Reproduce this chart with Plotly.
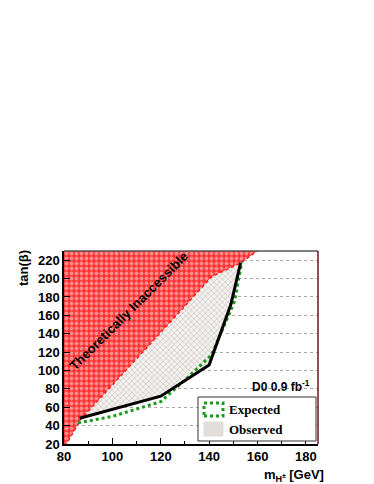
import plotly.graph_objects as go

# Theoretically inaccessible region boundary (m_H±, tanβ)
theo_m = [81, 87, 100, 115, 130, 141, 153, 160]
theo_tb = [20, 47, 84, 127, 170, 202, 217, 230]

# Observed exclusion boundary
obs_m = [86.5, 120, 140, 149, 153]
obs_tb = [48, 72, 106, 172, 217]

# Expected exclusion boundary
exp_m = [85.8, 100, 120, 131, 141, 150.5, 153.5]
exp_tb = [43, 50, 66, 92, 117, 175, 218]

x_ticks = [80, 100, 120, 140, 160, 180]
y_ticks = [20, 40, 60, 80, 100, 120, 140, 160, 180, 200, 220]

fig = go.Figure()

# Observed excluded region (grey hatch): between theory boundary and observed line
grey_x = theo_m[1:7] + obs_m[::-1][1:]
grey_y = theo_tb[1:7] + obs_tb[::-1][1:]
fig.add_trace(go.Scatter(
    x=grey_x, y=grey_y, fill="toself", mode="lines",
    line=dict(width=0, color="rgba(0,0,0,0)"),
    fillcolor="rgba(0,0,0,0)",
    fillpattern=dict(shape="x", fgcolor="#b5ada5", bgcolor="#f4f2f0", size=4, solidity=0.4),
    hoverinfo="skip", showlegend=False))

# Theoretically inaccessible region (red hatch)
red_x = [80] + theo_m + [80]
red_y = [20] + theo_tb + [230]
fig.add_trace(go.Scatter(
    x=red_x, y=red_y, fill="toself", mode="lines",
    line=dict(width=1.5, color="#ff1a1a", dash="dot"),
    fillcolor="rgba(0,0,0,0)",
    fillpattern=dict(shape=".", fgcolor="#ffe6e6", bgcolor="#ff3333", size=5, solidity=0.45),
    hoverinfo="skip", showlegend=False))

# Expected line
fig.add_trace(go.Scatter(x=exp_m, y=exp_tb, mode="lines",
                         line=dict(color="#1a9a1a", width=3, dash="dot"),
                         hoverinfo="skip", showlegend=False))
# Observed line
fig.add_trace(go.Scatter(x=obs_m, y=obs_tb, mode="lines",
                         line=dict(color="black", width=3),
                         hoverinfo="skip", showlegend=False))

W, H = 374, 484
L, R, T, B = 56, 64, 243, 48
pw, ph = W - L - R, H - T - B

def px(x):
    return (x - L) / pw

def py(y):
    return (H - B - y) / ph

sans_bold = dict(family="Liberation Sans, Arial, sans-serif", size=13, color="black", weight="bold")
serif_bold = dict(family="Liberation Serif, Times New Roman, serif", size=13, color="black", weight="bold")

shapes = [
    # frame top and right
    dict(type="line", xref="paper", yref="paper", x0=0, x1=1, y0=1, y1=1,
         line=dict(color="#555555", width=1.5)),
    dict(type="line", xref="paper", yref="paper", x0=1, x1=1, y0=0, y1=1,
         line=dict(color="#6b1a1a", width=1.5)),
    # legend box
    dict(type="rect", xref="paper", yref="paper", x0=px(190), x1=px(308), y0=py(433), y1=py(389),
         line=dict(color="#333333", width=1), fillcolor="white", layer="above"),
    # expected swatch
    dict(type="rect", xref="paper", yref="paper", x0=px(196), x1=px(215), y0=py(408), y1=py(395),
         line=dict(color="#1a9a1a", width=3, dash="dot"), fillcolor="white", layer="above"),
    # observed swatch
    dict(type="rect", xref="paper", yref="paper", x0=px(196), x1=px(215), y0=py(428), y1=py(414),
         line=dict(color="#dddddd", width=1), fillcolor="#e2ded9", layer="above"),
]

annotations = [
    dict(text="Expected", xref="paper", yref="paper", x=px(219), y=py(401), xanchor="left",
         yanchor="middle", showarrow=False, font=serif_bold),
    dict(text="Observed", xref="paper", yref="paper", x=px(219), y=py(421), xanchor="left",
         yanchor="middle", showarrow=False, font=serif_bold),
    dict(text="D0 0.9 fb<sup>-1</sup>", xref="paper", yref="paper", x=px(304), y=py(378),
         xanchor="right", yanchor="middle", showarrow=False,
         font=dict(family="Liberation Sans, Arial, sans-serif", size=12, color="black", weight="bold")),
    dict(text="Theoretically Inaccessible", xref="paper", yref="paper", x=px(120), y=py(303),
         xanchor="center", yanchor="middle", textangle=-45, showarrow=False,
         font=dict(family="Liberation Sans, Arial, sans-serif", size=13, color="black", weight="bold")),
    dict(text="tan(β)", xref="paper", yref="paper", x=px(15), y=py(260), xanchor="center",
         yanchor="middle", textangle=-90, showarrow=False, font=sans_bold),
    dict(text="m<sub>H<sup>±</sup></sub> [GeV]", xref="paper", yref="paper", x=px(318), y=py(467),
         xanchor="right", yanchor="middle", showarrow=False, font=sans_bold),
]

fig.update_layout(
    width=W, height=H,
    margin=dict(l=L, r=R, t=T, b=B),
    paper_bgcolor="white", plot_bgcolor="white",
    shapes=shapes, annotations=annotations,
    showlegend=False,
    xaxis=dict(range=[80, 185], tickvals=x_ticks, ticks="inside", ticklen=6,
               tickcolor="black", showline=True, linecolor="black", linewidth=1.5,
               showgrid=False, zeroline=False, tickfont=sans_bold, ticklabelstandoff=0,
               minor=dict(ticks="inside", ticklen=3, dtick=10, tick0=80, tickcolor="black")),
    yaxis=dict(range=[20, 230], tickvals=y_ticks, ticks="inside", ticklen=6,
               tickcolor="black", showline=True, linecolor="black", linewidth=1.5,
               showgrid=True, gridcolor="#a8a8a8", griddash="dot", gridwidth=1,
               zeroline=False, tickfont=sans_bold, ticklabelstandoff=0),
)

fig.write_html("out.html")
